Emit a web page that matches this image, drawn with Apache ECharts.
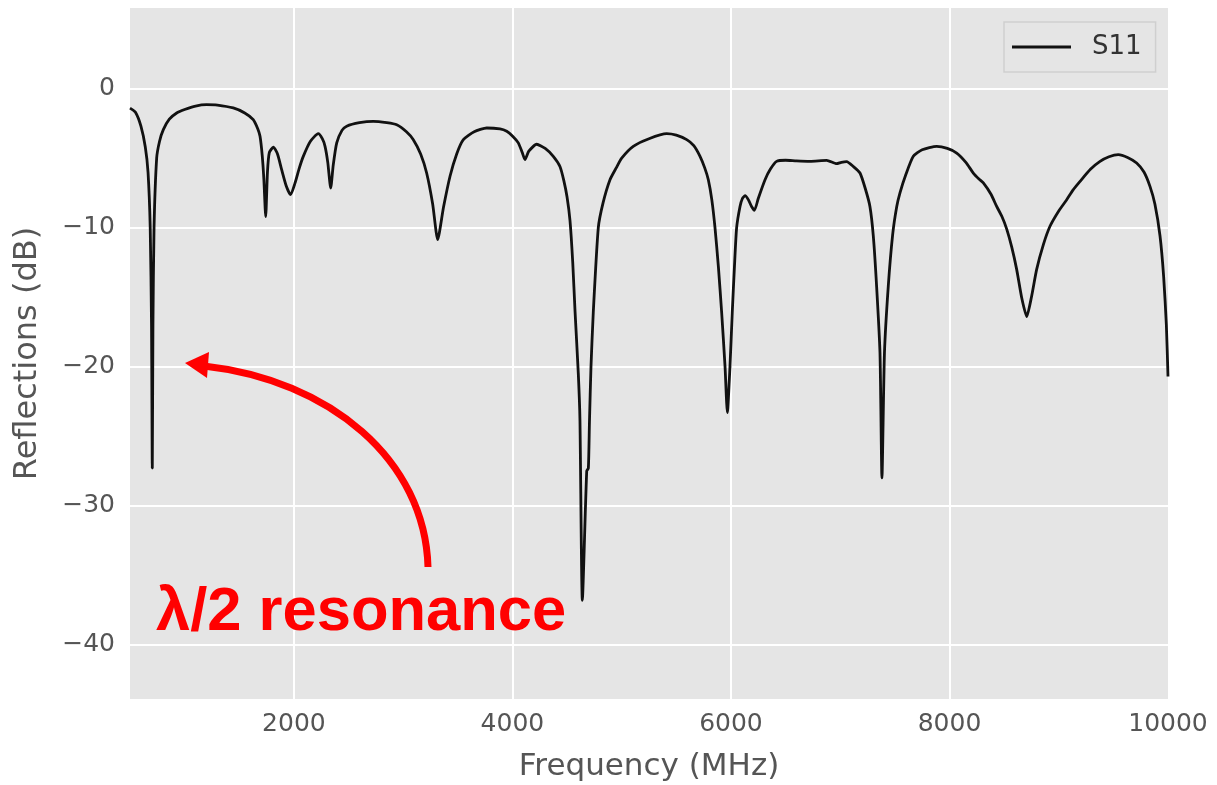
<!DOCTYPE html>
<html>
<head>
<meta charset="utf-8">
<script src="https://cdn.jsdelivr.net/npm/echarts@6/dist/echarts.min.js"></script>
<style>
html,body{margin:0;padding:0;background:#fff;}
#chart{width:1217px;height:785px;}
</style>
</head>
<body>
<div id="chart"></div>
<script>
// ---- data ----
const seriesName = 'S11';
const freqMHz = [
  500, 550, 600, 640, 665, 685, 697, 704, 710, 720, 744, 770, 805, 860, 927, 1000, 1100, 1200, 1300, 1445,
  1550, 1628, 1670, 1690, 1710, 1725, 1742, 1758, 1775, 1812, 1850, 1888, 1930, 1970, 2010, 2050, 2086, 2150,
  2223, 2260, 2285, 2310, 2337, 2360, 2392, 2440, 2483, 2600, 2727, 2850, 2941, 3030, 3093, 3160, 3215, 3270,
  3316, 3370, 3429, 3490, 3551, 3650, 3765, 3886, 3948, 4000, 4054, 4090, 4115, 4150, 4222, 4300, 4374, 4435,
  4470, 4500, 4527, 4552, 4573, 4603, 4618, 4640, 4680, 4695, 4705, 4719, 4740, 4786, 4830, 4893, 4950, 5000,
  5106, 5250, 5412, 5500, 5595, 5660, 5717, 5760, 5793, 5825, 5854, 5885, 5915, 5946, 5967, 5991, 6012, 6032,
  6052, 6083, 6105, 6129, 6160, 6190, 6215, 6250, 6312, 6360, 6418, 6500, 6600, 6723, 6876, 6967, 7010, 7059,
  7120, 7181, 7230, 7272, 7303, 7333, 7364, 7382, 7405, 7440, 7480, 7517, 7547, 7600, 7669, 7750, 7883, 7980,
  8066, 8150, 8218, 8270, 8310, 8380, 8432, 8480, 8524, 8570, 8615, 8660, 8707, 8750, 8798, 8860, 8920, 9000,
  9073, 9130, 9195, 9290, 9378, 9460, 9545, 9630, 9713, 9780, 9835, 9880, 9927, 9960, 9985, 10000
];
const s11dB = [
  -1.4, -1.7, -2.7, -4.2, -6.0, -10, -17, -27.3, -17, -10, -5.0, -3.8, -2.95, -2.2, -1.75, -1.5, -1.25, -1.15, -1.18, -1.39,
  -1.75, -2.23, -2.9, -3.43, -4.8, -6.5, -9.2, -6.0, -4.6, -4.2, -4.7, -5.83, -7.0, -7.63, -6.8, -5.7, -4.87, -3.8,
  -3.24, -3.6, -4.15, -5.3, -7.15, -5.5, -3.9, -3.0, -2.7, -2.45, -2.35, -2.45, -2.6, -3.1, -3.67, -4.7, -6.07, -8.3,
  -10.86, -8.5, -6.3, -4.7, -3.67, -3.1, -2.83, -2.9, -3.07, -3.4, -3.9, -4.6, -5.1, -4.5, -4.0, -4.3, -4.87, -5.6,
  -6.6, -7.8, -9.5, -12.5, -16, -20.5, -23.8, -36.8, -27.5, -27.3, -24, -20, -16.1, -10, -8.2, -6.55, -5.7, -5.0,
  -4.15, -3.6, -3.24, -3.35, -3.67, -4.1, -4.87, -5.7, -6.55, -8.0, -10, -12.8, -16.1, -20, -23.3, -20, -16.1, -12.8,
  -10, -8.47, -7.9, -7.7, -8.0, -8.5, -8.75, -7.9, -6.55, -5.8, -5.23, -5.15, -5.2, -5.23, -5.16, -5.4, -5.3, -5.25,
  -5.6, -6.07, -7.2, -8.47, -10.6, -14.2, -19.0, -28.0, -19, -14.2, -10.5, -8.5, -7.5, -6.2, -4.87, -4.4, -4.15, -4.3,
  -4.63, -5.3, -6.07, -6.5, -6.78, -7.6, -8.47, -9.2, -10.1, -11.4, -13.0, -15, -16.4, -15, -13.0, -11.2, -9.9, -8.8,
  -7.99, -7.3, -6.67, -5.8, -5.23, -4.9, -4.75, -4.95, -5.35, -6.0, -7.03, -8.3, -10.6, -13.5, -17, -20.7
];
const xRange = [500, 10000];
const yRange = [-43.9, 5.8];
const xTitle = 'Frequency (MHz)';
const yTitle = 'Reflections (dB)';
const annotationText = 'λ/2 resonance';

// ---- chart ----
const chart = echarts.init(document.getElementById('chart'), null, {renderer: 'canvas'});
const points = freqMHz.map((f, i) => [f, s11dB[i]]);
const tickFont = {fontFamily: 'DejaVu Sans', fontSize: 25, color: '#555555'};
const fmtMinus = v => (v < 0 ? '\u2212' + Math.abs(v) : String(v));

const option = {
  animation: false,
  backgroundColor: '#ffffff',
  grid: {
    left: 130, right: 49, top: 8, bottom: 86,
    containLabel: false, outerBoundsMode: 'none',
    show: true, backgroundColor: '#E5E5E5', borderWidth: 0
  },
  legend: {
    left: 1004, top: 22,
    padding: [12, 14, 12, 8],
    backgroundColor: '#E5E5E5',
    borderColor: '#CFCFCF', borderWidth: 1.5, borderRadius: 0,
    icon: 'rect', itemWidth: 59, itemHeight: 3,
    textStyle: {fontFamily: 'DejaVu Sans', fontSize: 26, lineHeight: 26, color: '#333333', padding: [0, 0, 0, 16]},
    data: [seriesName]
  },
  xAxis: {
    type: 'value', min: xRange[0], max: xRange[1], splitNumber: 5,
    name: xTitle, nameLocation: 'middle', nameGap: 52,
    nameTextStyle: {fontFamily: 'DejaVu Sans', fontSize: 31, color: '#555555'},
    axisLine: {show: false}, axisTick: {show: false},
    axisLabel: Object.assign({margin: 13, showMinLabel: false, formatter: v => String(v)}, tickFont),
    splitLine: {show: true, showMinLine: false, showMaxLine: false, lineStyle: {color: '#FFFFFF', width: 2}}
  },
  yAxis: {
    type: 'value', min: yRange[0], max: yRange[1], splitNumber: 5,
    name: yTitle, nameLocation: 'middle', nameGap: 86, nameRotate: 90,
    nameTextStyle: {fontFamily: 'DejaVu Sans', fontSize: 32, color: '#555555'},
    axisLine: {show: false}, axisTick: {show: false},
    axisLabel: Object.assign({margin: 15, showMinLabel: false, showMaxLabel: false, formatter: fmtMinus}, tickFont),
    splitLine: {show: true, showMinLine: false, showMaxLine: false, lineStyle: {color: '#FFFFFF', width: 2}}
  },
  series: [{
    name: seriesName, type: 'line', data: points,
    showSymbol: false, symbol: 'none', smooth: 0.2,
    lineStyle: {color: '#111111', width: 2.8},
    itemStyle: {color: '#111111'}
  }],
  graphic: [
    {
      type: 'bezierCurve', z: 100,
      shape: {x1: 428, y1: 567, cpx1: 425, cpy1: 460, cpx2: 330, cpy2: 380, x2: 204, y2: 366},
      style: {stroke: '#FF0000', lineWidth: 7, fill: null}
    },
    {
      type: 'polygon', z: 100,
      shape: {points: [[185, 363], [209, 352], [207, 378]]},
      style: {fill: '#FF0000'}
    },
    {
      type: 'text', z: 100, left: 156, top: 582,
      style: {text: annotationText, fontFamily: 'Liberation Sans', fontWeight: 'bold', fontSize: 61.5, fill: '#FF0000'}
    }
  ]
};
chart.setOption(option);
</script>
</body>
</html>
